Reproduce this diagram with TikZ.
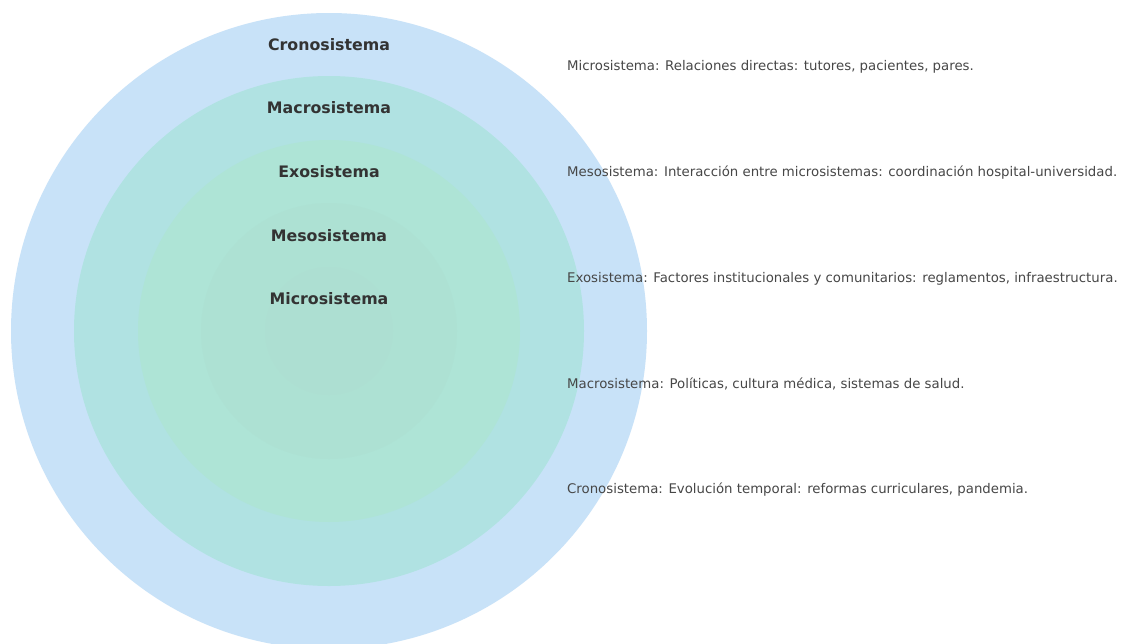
\documentclass[tikz,border=0pt]{standalone}
\usepackage{fontspec}
\setmainfont{DejaVu Sans}
\definecolor{cronofill}{RGB}{200,226,248}
\definecolor{macrofill}{RGB}{176,226,226}
\definecolor{exofill}{RGB}{174,228,214}
\definecolor{mesofill}{RGB}{173,225,211}
\definecolor{microfill}{RGB}{173,223,210}
\definecolor{inktext}{RGB}{51,51,51}
\tikzset{
  ring/.style={draw=none},
  ringlabel/.style={font=\bfseries\fontsize{15.8}{18}\selectfont, text=inktext, anchor=center, inner sep=0pt},
  notetext/.style={font=\fontsize{13.3}{15}\selectfont, text=inktext!90, anchor=west, inner sep=0pt},
}
\begin{document}
\begin{tikzpicture}[x=1pt, y=-1pt]
\useasboundingbox (0,0) rectangle (1125,643);
\clip (0,0) rectangle (1125,643);
\fill[white] (0,0) rectangle (1125,643);
% nested rings
\fill[ring, cronofill] (329,331) circle [radius=318pt];
\fill[ring, macrofill] (329,331) circle [radius=255pt];
\fill[ring, exofill] (329,331) circle [radius=191pt];
\fill[ring, mesofill] (329,331) circle [radius=128pt];
\fill[ring, microfill] (329,331) circle [radius=64pt];
% ring labels
\node[ringlabel] (crono) at (329,45) {Cronosistema};
\node[ringlabel] (macro) at (329,108) {Macrosistema};
\node[ringlabel] (exo) at (329,172) {Exosistema};
\node[ringlabel] (meso) at (329,236) {Mesosistema};
\node[ringlabel] (micro) at (329,299) {Microsistema};
% descriptions
\node[notetext] (micronote) at (567,67) {Microsistema: Relaciones directas: tutores, pacientes, pares.};
\node[notetext] (mesonote) at (567,173) {Mesosistema: Interacción entre microsistemas: coordinación hospital-universidad.};
\node[notetext] (exonote) at (567,279) {Exosistema: Factores institucionales y comunitarios: reglamentos, infraestructura.};
\node[notetext] (macronote) at (567,384) {Macrosistema: Políticas, cultura médica, sistemas de salud.};
\node[notetext] (crononote) at (567,490) {Cronosistema: Evolución temporal: reformas curriculares, pandemia.};
\end{tikzpicture}
\end{document}
